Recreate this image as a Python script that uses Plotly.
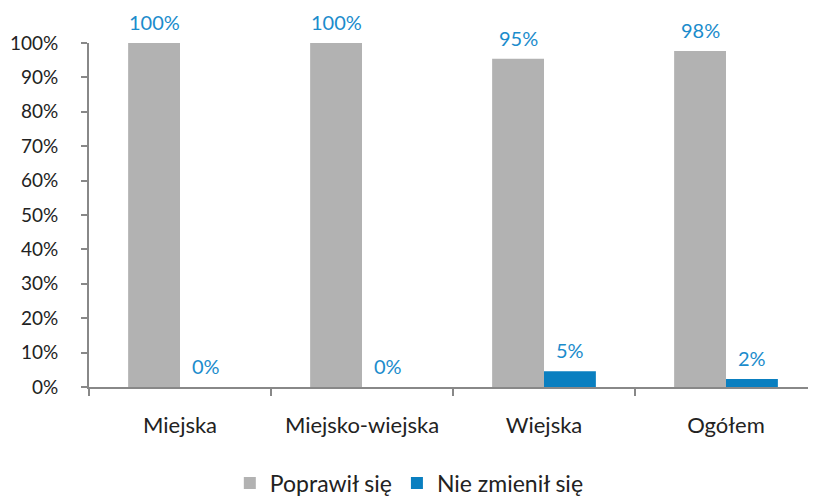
import plotly.graph_objects as go

categories = ["Miejska", "Miejsko-wiejska", "Wiejska", "Ogółem"]
poprawil = [100, 100, 95.4, 97.7]
niezmienil = [0, 0, 4.6, 2.3]
series_names = ["Poprawił się", "Nie zmienił się"]
tick_vals = [0, 10, 20, 30, 40, 50, 60, 70, 80, 90, 100]
tick_text = [f"{v}%" for v in tick_vals]

FONT = "Lato, 'Open Sans', sans-serif"
GRAY = "#b2b2b2"
BLUE = "#0a7fc0"
LABEL_BLUE = "#1b8ccc"

fig = go.Figure()
fig.add_trace(go.Bar(x=categories, y=poprawil, name=series_names[0],
                     marker=dict(color=GRAY, line=dict(width=0))))
fig.add_trace(go.Bar(x=categories, y=niezmienil, name=series_names[1],
                     marker=dict(color=BLUE, line=dict(width=0))))

annotations = []
for series, shift in ((poprawil, -26), (niezmienil, 26)):
    for cat, val in zip(categories, series):
        annotations.append(dict(
            x=cat, y=val, xref="x", yref="y", text=f"{round(val)}%",
            showarrow=False, xshift=shift, yshift=7, yanchor="bottom",
            font=dict(family=FONT, size=20, color=LABEL_BLUE)))

fig.update_layout(
    width=816, height=496,
    margin=dict(l=81, r=7, t=35, b=117, autoexpand=False),
    paper_bgcolor="white", plot_bgcolor="white",
    barmode="group", bargap=0.43, bargroupgap=0,
    font=dict(family=FONT, size=19, color="#222222"),
    showlegend=True,
    legend=dict(orientation="h", x=0.44, xanchor="center", y=-0.279, yanchor="middle",
                font=dict(family=FONT, size=23, color="#222222"),
                itemsizing="constant", traceorder="normal"),
    annotations=annotations,
)
fig.update_xaxes(
    automargin=False,
    showline=True, linecolor="#888888", linewidth=2,
    ticks="outside", tickson="boundaries", ticklen=7, tickcolor="#888888", tickwidth=1.5,
    tickfont=dict(family=FONT, size=22, color="#222222"),
    ticklabelstandoff=18, showgrid=False,
)
fig.update_yaxes(
    automargin=False,
    range=[0, 100], tickvals=tick_vals, ticktext=tick_text,
    showline=True, linecolor="#888888", linewidth=2,
    ticks="outside", ticklen=6, tickcolor="#888888", tickwidth=1.5,
    tickfont=dict(family=FONT, size=19, color="#222222"),
    ticklabelstandoff=19,
    showgrid=False, zeroline=False,
)

fig.write_html("out.html")
